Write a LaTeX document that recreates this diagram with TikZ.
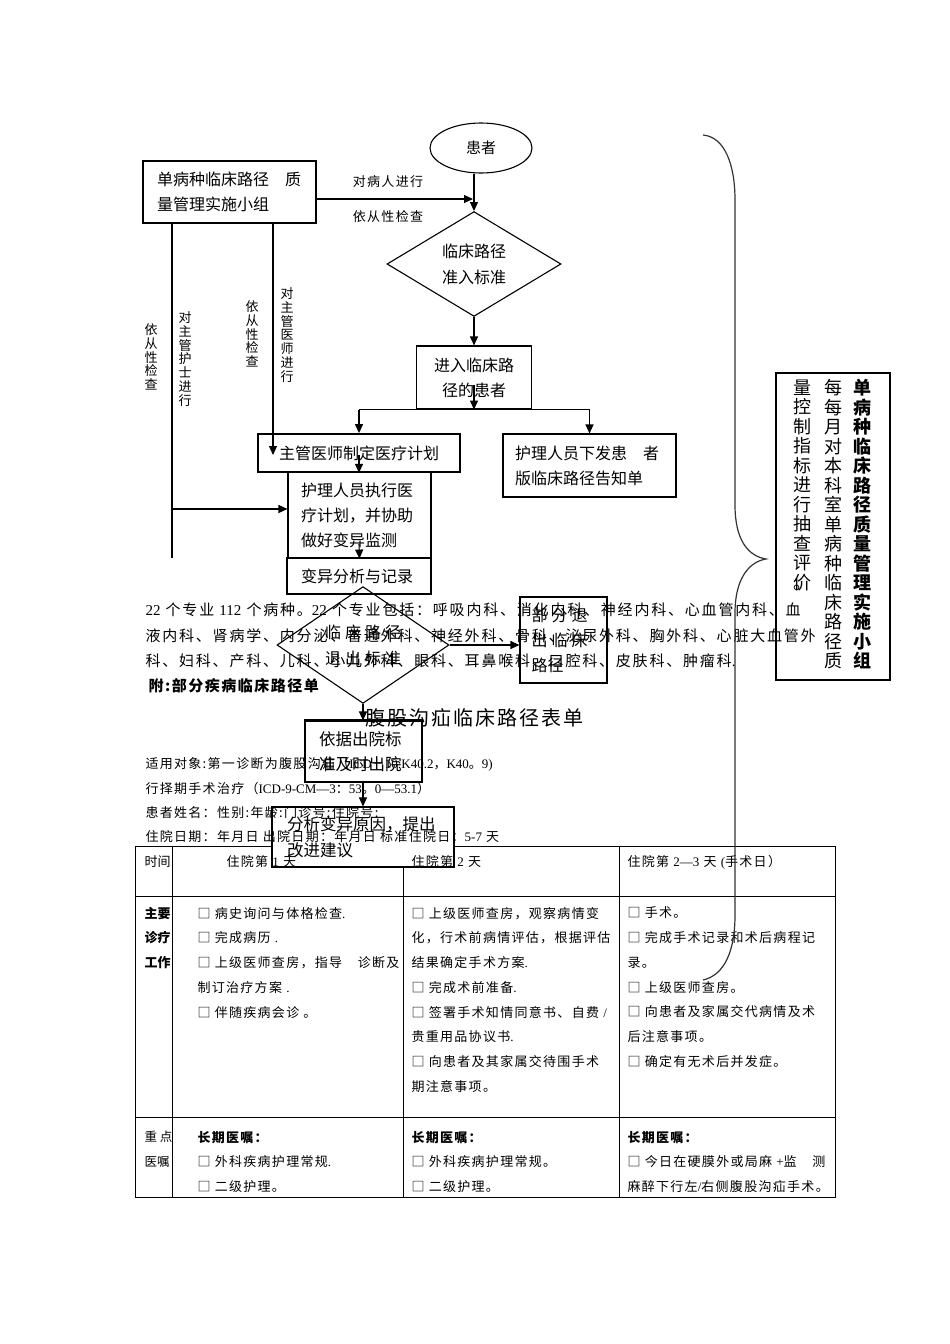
\documentclass[tikz,border=0pt]{standalone}
\usepackage{fontspec}
\setmainfont{Noto Sans CJK SC}
\newfontfamily\lsf[LetterSpace=10]{Noto Sans CJK SC}
\newfontfamily\lsp[LetterSpace=12]{Noto Sans CJK SC}
\newfontfamily\lsw[LetterSpace=25]{Noto Sans CJK SC}
\newfontfamily\lat{Liberation Serif}
\usetikzlibrary{shapes.geometric,arrows.meta}
\begin{document}
\begin{tikzpicture}[x=1pt,y=-1pt,line width=1.1pt,
  arr/.style={-{Triangle[length=9pt,width=8pt]}},
  fc/.style={draw,inner sep=0pt,font=\fontsize{16}{25}\selectfont,align=center},
  fl/.style={draw,inner ysep=0pt,font=\fontsize{16}{25}\selectfont,align=left},
  vl/.style={inner sep=0pt,font=\fontsize{13}{13.7}\selectfont,align=center},
  ptxt/.style={inner sep=0pt,anchor=west,font=\lsp\fontsize{15}{18}\selectfont},
  stxt/.style={inner sep=0pt,anchor=west,font=\lsf\fontsize{13}{16}\selectfont},
  cell/.style={inner sep=0pt,anchor=north west,align=left,font=\lsf\fontsize{13}{24.75}\selectfont},
  tline/.style={line width=1pt},
  brace/.style={line width=1.2pt,draw=black!80}
]
\useasboundingbox (0,0) rectangle (950,1344);

% ---------- table lines ----------
\draw[tline] (135,846) rectangle (835,1197);
\draw[tline] (135,896) -- (835,896);
\draw[tline] (135,1117) -- (835,1117);
\draw[tline] (172,846) -- (172,1197);
\draw[tline] (403,846) -- (403,1197);
\draw[tline] (619,846) -- (619,1197);

% ---------- flowchart nodes ----------
\node[ellipse,draw,inner sep=0pt,minimum width=102,minimum height=50,font=\fontsize{15}{18}\selectfont] (patient) at (481,148) {患者};
\node[fl,minimum width=173,minimum height=62,text width=145,inner xsep=14] (group) at (229.5,192) {单病种临床路径　质\\量管理实施小组};
\node[fc,diamond,minimum width=174,minimum height=98,font=\fontsize{16}{26}\selectfont] (entry) at (474,264) {临床路径\\准入标准};
\node[fc,minimum width=115,minimum height=63] (enter) at (474,377.5) {进入临床路\\径的患者};
\node[fc,line width=1.8pt,minimum width=202,minimum height=38] (plan) at (359,453) {主管医师制定医疗计划};
\node[fl,minimum width=173,minimum height=63,text width=149,inner xsep=12] (notice) at (589.5,465.5) {护理人员下发患　者\\版临床路径告知单};
\node[fl,minimum width=143,minimum height=86,text width=117,inner xsep=13] (exec) at (359.5,515) {护理人员执行医\\疗计划，并协助\\做好变异监测};
\node[fl,minimum width=144,minimum height=36,text width=116,inner xsep=14] (var) at (359,576) {变异分析与记录};
\node[fc,diamond,minimum width=172,minimum height=100,font=\lsw\fontsize{16}{26}\selectfont] (exitd) at (363,645) {临床路径\\退出标准};
\node[fl,minimum width=87,minimum height=86,text width=64,inner xsep=11.5,font=\lsw\fontsize{16}{25}\selectfont] (exitpart) at (563.5,640) {部分退\\出临床\\{\rmfamily 路径}};
\node[fl,minimum width=117,minimum height=61,text width=89,inner xsep=14,font=\fontsize{16.5}{25}\selectfont] (discharge) at (363.5,751.5) {依据出院标\\准及时出院};
\draw[line width=2.2pt] (discharge.north west) -- (discharge.north east);
\node[fl,fill=white,minimum width=182,minimum height=60,text width=152,inner xsep=15,font=\fontsize{16.5}{26}\selectfont] (analyze) at (363,837) {分析变异原因，提出\\改进建议};

\node[draw,line width=1.3pt,minimum width=114,minimum height=307,inner sep=0pt] (qcbox) at (833,526.5) {};
\node[inner sep=0pt,anchor=north,align=center,font=\bfseries\fontsize{18}{19.5}\selectfont] (qc1) at (862,379) {单\\病\\种\\临\\床\\路\\径\\质\\量\\管\\理\\实\\施\\小\\组};
\node[inner sep=0pt,anchor=north,align=center,font=\fontsize{18}{19.5}\selectfont] (qc2) at (833,379) {每\\每\\月\\对\\本\\科\\室\\单\\病\\种\\临\\床\\路\\径\\质};
\node[inner sep=0pt,anchor=north,align=center,font=\fontsize{18}{19.5}\selectfont] (qc3) at (802,379) {量\\控\\制\\指\\标\\进\\行\\抽\\查\\评\\\rlap{。}价};

% ---------- labels ----------
\node[stxt,anchor=center] (l1) at (388,182) {对病人进行};
\node[stxt,anchor=center] (l2) at (388,217) {依从性检查};
\node[vl] (v1) at (151,357) {依\\从\\性\\检\\查};
\node[vl] (v2) at (185,359) {对\\主\\管\\护\\士\\进\\行};
\node[vl] (v3) at (252,334) {依\\从\\性\\检\\查};
\node[vl] (v4) at (287,335) {对\\主\\管\\医\\师\\进\\行};

% ---------- connectors ----------
\coordinate (j1) at (473,199);
\draw[arr] ([yshift=-7pt]group.east) -- (j1);
\draw[arr] (entry.north |- patient.south) -- (entry.north);
\draw[arr] (entry.south) -- (enter.north);
\coordinate (e1) at (474,385);
\draw[arr] (e1) -- (enter.south);
\draw (plan.north |- enter.south) -- (notice.north |- enter.south);
\draw[arr] (plan.north |- enter.south) -- (plan.north);
\draw[arr] (notice.north |- enter.south) -- (notice.north);
\coordinate (gd) at (273,455);
\draw[arr] (gd |- group.south) -- (gd);
\coordinate (gn) at (172,558);
\draw (gn |- group.south) -- (gn);
\coordinate (gb) at (172,509);
\draw[arr] (gb) -- (gb -| exec.west);
\coordinate (p1) at (359,455);
\draw[arr] (p1) -- (plan.south);
\coordinate (x1) at (359,544);
\draw[arr] (x1) -- (exec.south);
\draw[arr] (exitd.east) -- (exitd.east -| exitpart.west);
\draw[arr] (exitd.south) -- (exitd.south |- discharge.north);
\draw[arr] (discharge.south -| exitd.south) -- (exitd.south |- analyze.north);

% ---------- paragraph text ----------
\node[ptxt] (t1) at (145,610) {{\lat 22} 个专业 {\lat 112} 个病种。{\lat 22} 个专业包括：呼吸内科、消化内科、神经内科、心血管内科、血};
\node[ptxt] (t2) at (145,636) {液内科、肾病学、内分泌、普通外科、神经外科、骨科、泌尿外科、胸外科、心脏大血管外};
\node[ptxt] (t3) at (145,661) {科、妇科、产科、儿科、小儿外科、眼科、耳鼻喉科、口腔科、皮肤科、肿瘤科{\lat .}};
\node[ptxt,font=\lsf\bfseries\fontsize{15}{18}\selectfont] (t4) at (148,686) {附:部分疾病临床路径单};
\node[ptxt,font=\lsf\fontsize{20}{24}\selectfont] (t5) at (365,718) {腹股沟疝临床路径表单};
\node[stxt] (t6) at (145,764) {适用对象:第一诊断为腹股沟疝（{\lat ICD}－{\lat 10:K40.2}，{\lat K40}。{\lat 9)}};
\node[stxt] (t7) at (145,789) {行择期手术治疗（{\lat ICD-9-CM—3}：{\lat 53}。{\lat 0—53.1}）};
\node[stxt] (t8) at (145,813) {患者姓名：性别:年龄:门诊号:住院号:};
\node[stxt] (t9) at (145,837) {住院日期：年月日 出院日期：年月日 标准住院日：{\lat 5-7} 天};

% ---------- table text ----------
\node[stxt,font=\fontsize{13}{16}\selectfont] (h0) at (144,862) {时间};
\node[stxt] (h1) at (226,862) {住院第 {\lat 1} 天};
\node[stxt] (h2) at (411,862) {住院第 {\lat 2} 天};
\node[stxt] (h3) at (627,862) {住院第 {\lat 2—3} 天 {\lat (}手术日）};
\node[cell,font=\bfseries\fontsize{13}{24.75}\selectfont] (r0) at (144,906.5) {主要\\诊疗\\工作};
\node[cell] (r1) at (197,906.5) {□ 病史询问与体格检查{\lat .}\\□ 完成病历 {\lat .}\\□ 上级医师查房，指导　诊断及\\制订治疗方案 {\lat .}\\□ 伴随疾病会诊 。};
\node[cell] (r2) at (411,906.5) {□ 上级医师查房，观察病情变\\化，行术前病情评估，根据评估\\结果确定手术方案{\lat .}\\□ 完成术前准备{\lat .}\\□ 签署手术知情同意书、自费 {\lat /}\\贵重用品协议书{\lat .}\\□ 向患者及其家属交待围手术\\期注意事项。};
\node[cell] (r3) at (627,906.5) {□ 手术。\\□ 完成手术记录和术后病程记\\录。\\□ 上级医师查房。\\□ 向患者及家属交代病情及术\\后注意事项。\\□ 确定有无术后并发症。};
\node[cell,font=\fontsize{12.5}{24.75}\selectfont] (s0) at (144,1130.5) {重 点\\医嘱};
\node[cell] (s1) at (197,1130.5) {{\bfseries 长期医嘱：}\\□ 外科疾病护理常规{\lat .}\\□ 二级护理。};
\node[cell] (s2) at (411,1130.5) {{\bfseries 长期医嘱：}\\□ 外科疾病护理常规。\\□ 二级护理。};
\node[cell] (s3) at (627,1130.5) {{\bfseries 长期医嘱：}\\□ 今日在硬膜外或局麻 {\lat +}监　测\\麻醉下行左{\lat /}右侧腹股沟疝手术。};

% ---------- brace ----------
\coordinate (bt) at (703,135);
\coordinate (bm) at (766,559);
\coordinate (bb) at (703,980);
\draw[brace] (bt) .. controls (725,137) and (735,165) .. (735,200) -- (735,505)
  .. controls (735,540) and (748,556) .. (bm)
  .. controls (748,562) and (735,580) .. (735,613) -- (735,915)
  .. controls (735,950) and (725,975) .. (bb);
\end{tikzpicture}
\end{document}
